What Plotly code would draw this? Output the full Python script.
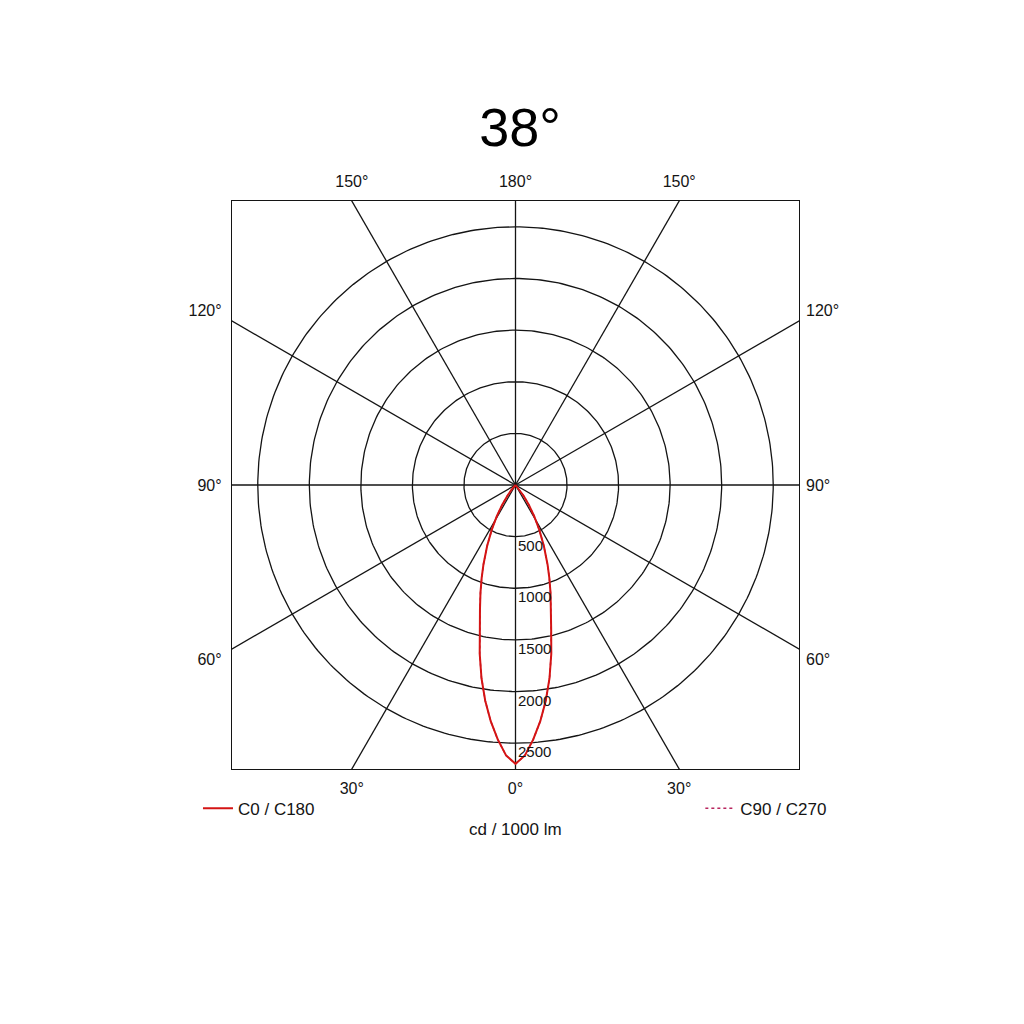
import numpy as np
import plotly.graph_objects as go

# luminous intensity distribution, cd / 1000 lm
gamma = [0, 2, 4, 6, 8, 10, 12, 14, 16, 18, 20, 22, 25, 28, 31, 34, 37, 40, 43, 46]
c0_c180 = [2700, 2620, 2470, 2300, 2110, 1900, 1670, 1430, 1250, 1100,
           960, 830, 650, 490, 350, 230, 130, 60, 20, 0]
c90_c270 = [2700, 2620, 2470, 2300, 2110, 1900, 1670, 1430, 1250, 1100,
            960, 830, 650, 490, 350, 230, 130, 60, 20, 0]

rings = [500, 1000, 1500, 2000, 2500]
spokes = list(range(0, 360, 30))
bottom_labels = ['30°', '0°', '30°']
top_labels = ['150°', '180°', '150°']
side_labels = ['60°', '90°', '120°']
title_text = '38°'
unit_text = 'cd / 1000 lm'

half = 2750  # box reaches this intensity
FONT = 'Liberation Sans, Arial, sans-serif'
INK = '#141414'


def to_xy(angles_deg, values):
    a = np.radians(angles_deg)
    v = np.asarray(values, dtype=float)
    return v * np.sin(a), -v * np.cos(a)


def mirrored(angles, values):
    ang = [-g for g in angles[::-1]] + angles[1:]
    val = values[::-1] + values[1:]
    return ang, val


fig = go.Figure()

# rings
t = np.linspace(0, 360, 361)
for r in rings:
    x, y = to_xy(t, [r] * len(t))
    fig.add_trace(go.Scatter(x=x, y=y, mode='lines', line=dict(color=INK, width=1.3),
                             hoverinfo='skip', showlegend=False))

# spokes, clipped by the box
for s in spokes:
    x, y = to_xy([s, s], [0, 2 * half])
    fig.add_trace(go.Scatter(x=x, y=y, mode='lines', line=dict(color=INK, width=1.3),
                             hoverinfo='skip', showlegend=False))

ang, val = mirrored(gamma, c90_c270)
x, y = to_xy(ang, val)
fig.add_trace(go.Scatter(x=x, y=y, mode='lines', name='C90 / C270', legend='legend2',
                         line=dict(color='#b8265e', width=1.5, dash='dot')))

ang, val = mirrored(gamma, c0_c180)
x, y = to_xy(ang, val)
fig.add_trace(go.Scatter(x=x, y=y, mode='lines', name='C0 / C180', legend='legend',
                         line=dict(color='#d41414', width=2)))

# dummy on the overlay axes so they get drawn
fig.add_trace(go.Scatter(x=[0], y=[0], xaxis='x2', yaxis='y2', mode='markers',
                         marker=dict(opacity=0), hoverinfo='skip', showlegend=False))

# ring values
for r in rings:
    fig.add_annotation(x=0, y=-r, text=str(r), showarrow=False, xanchor='left',
                       yanchor='top', xshift=0, yshift=2,
                       font=dict(family=FONT, size=15, color=INK))

tan30 = np.tan(np.radians(30))
hpos = [-half * tan30, 0, half * tan30]
vpos = [-half * tan30 * 1.065, 0, half * tan30 * 1.065]

tickfont = dict(family=FONT, size=16, color=INK)
axis_common = dict(range=[-half, half], showgrid=False, zeroline=False, fixedrange=True,
                   tickfont=tickfont)

# the page body adds ~7px, so margins are pulled back by that much
fig.update_layout(
    width=1024, height=1024,
    margin=dict(l=224, r=233, t=193, b=263),
    paper_bgcolor='white', plot_bgcolor='white',
    title=dict(text=title_text, x=0.5, xanchor='center', y=0.884, yanchor='middle',
               font=dict(family=FONT, size=54, color='#000')),
    xaxis=dict(**axis_common, tickvals=hpos, ticktext=bottom_labels, ticklabelstandoff=5,
               showline=True, mirror=True, linecolor=INK, linewidth=1.4),
    yaxis=dict(**axis_common, tickvals=vpos, ticktext=side_labels, ticklabelstandoff=6,
               showline=True, mirror=True, linecolor=INK, linewidth=1.4),
    xaxis2=dict(**axis_common, tickvals=hpos, ticktext=top_labels, overlaying='x',
                ticklabelstandoff=10, side='top', anchor='y', showline=False),
    yaxis2=dict(**axis_common, tickvals=vpos, ticktext=side_labels, overlaying='y',
                ticklabelstandoff=6, side='right', anchor='x', showline=False),
    legend=dict(x=-0.06, y=-0.07, xanchor='left', yanchor='middle', itemwidth=30,
                bgcolor='rgba(0,0,0,0)', font=dict(family=FONT, size=17, color=INK)),
    legend2=dict(x=0.826, y=-0.07, xanchor='left', yanchor='middle', itemwidth=30,
                 bgcolor='rgba(0,0,0,0)', font=dict(family=FONT, size=17, color=INK)),
    annotations=list(fig.layout.annotations) + [
        dict(text=unit_text, xref='paper', yref='paper', x=0.5, y=-0.106,
             xanchor='center', yanchor='middle', showarrow=False,
             font=dict(family=FONT, size=17, color=INK))
    ],
)

fig.write_html('out.html')
